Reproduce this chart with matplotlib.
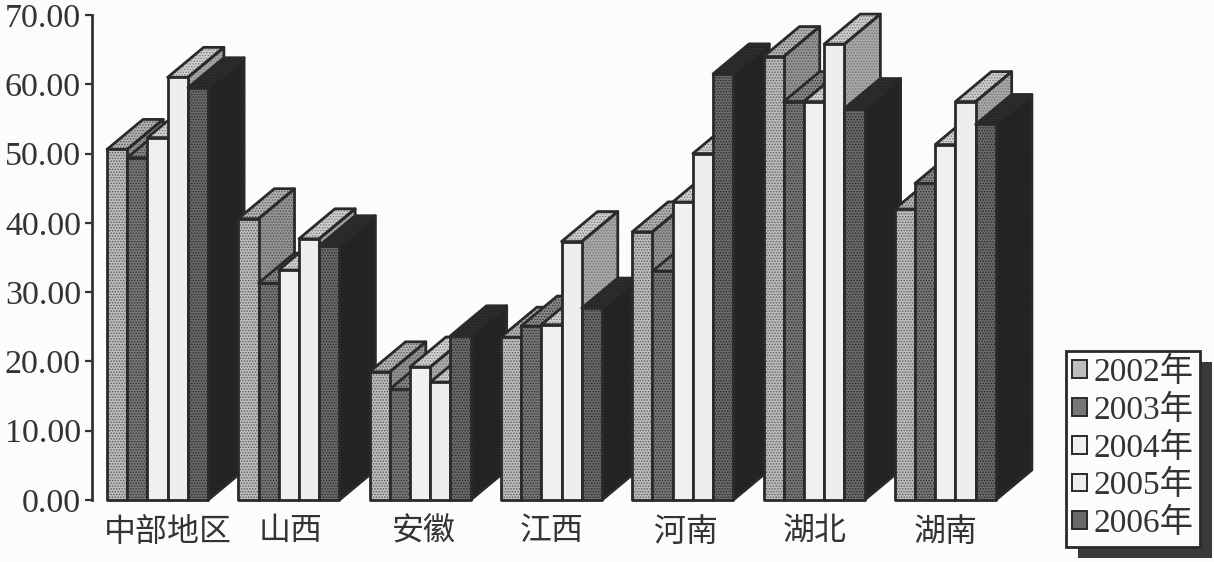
import matplotlib
matplotlib.use("Agg")
import matplotlib.pyplot as plt
from matplotlib.patches import Polygon, Patch, Rectangle

plt.rcParams['font.family'] = ['Liberation Serif', 'Noto Sans CJK SC']
plt.rcParams['hatch.linewidth'] = 0.7

W, H = 1214, 562

# data
regions = ['中部地区', '山西', '安徽', '江西', '河南', '湖北', '湖南']
label_pos = [0.465, 1.40, 2.414, 3.39, 4.41, 5.39, 6.39]
years = ['2002年', '2003年', '2004年', '2005年', '2006年']
y2002 = [50.6, 40.6, 18.5, 23.5, 38.7, 64.0, 42.0]
y2003 = [49.4, 31.3, 16.0, 25.1, 33.0, 57.5, 45.7]
y2004 = [52.3, 33.2, 19.2, 25.3, 43.0, 57.5, 51.3]
y2005 = [61.0, 37.7, 17.0, 37.3, 50.0, 65.8, 57.5]
y2006 = [59.5, 36.7, 23.7, 27.7, 61.5, 56.5, 54.2]
series = [y2002, y2003, y2004, y2005, y2006]

# colours per series
front = ['#bdbdbd', '#777777', '#f0f0f0', '#eeeeee', '#6a6a6a']
top = ['#b4b4b4', '#8a8a8a', '#d4d4d4', '#cfcfcf', '#2e2e2e']
side = ['#959595', '#5c5c5c', '#ababab', '#a8a8a8', '#262626']
dots = ['#5a5a5a', '#2e2e2e', '#f0f0f0', '#eeeeee', '#2a2a2a']
dots_back = ['#555555', '#2e2e2e', '#777777', '#777777', '#1e1e1e']
edge = '#2a2a2a'

bar_w = 0.154
dx = 36 / 131.3
dy = 30 / 6.93

fig = plt.figure(figsize=(W / 100, H / 100), dpi=100, facecolor='#fcfcfc')
left, right, bottom, tp = 92, 1060, 500, 15
ax = fig.add_axes([left / W, 1 - bottom / H, (right - left) / W, (bottom - tp) / H])
ax.set_xlim((left - 107) / 131.3, (right - 107) / 131.3)
ax.set_ylim(0, 70)
ax.patch.set_alpha(0)


def face(pts, color, dot, z):
    ax.add_patch(Polygon(pts, closed=True, facecolor=color, edgecolor=dot, hatch='......',
                         lw=0, zorder=z, clip_on=False))
    ax.add_patch(Polygon(pts, closed=True, fill=False, edgecolor=edge, lw=2.0,
                         zorder=z + 0.1, clip_on=False, joinstyle='round'))


z = 3
for g in range(len(regions)):
    for s in range(len(series)):
        x0 = g + s * bar_w
        x1 = x0 + bar_w
        v = series[s][g]
        face([(x1, 0), (x1 + dx, dy), (x1 + dx, v + dy), (x1, v)], side[s], dots_back[s], z)
        face([(x0, v), (x0 + dx, v + dy), (x1 + dx, v + dy), (x1, v)], top[s], dots_back[s], z)
        face([(x0, 0), (x1, 0), (x1, v), (x0, v)], front[s], dots[s], z + 0.2)
        z += 1

for name in ['top', 'right', 'bottom']:
    ax.spines[name].set_visible(False)
ax.spines['left'].set_linewidth(2.0)
ax.spines['left'].set_color('#333333')

ax.set_yticks(range(0, 71, 10))
ax.set_yticklabels(['%.2f' % t for t in range(0, 71, 10)], fontsize=24.5, color='#333333')
ax.tick_params(axis='y', length=5, width=1.6, color='#333333', pad=3)
ax.set_xticks(label_pos)
ax.set_xticklabels(regions, fontsize=23, color='#333333')
ax.tick_params(axis='x', length=0, pad=13)

# legend with its hard shadow
handles = [Patch(facecolor=front[i], edgecolor=edge, lw=1.4) for i in range(5)]
fig.add_artist(Rectangle((1078 / W, 1 - 558 / H), 134 / W, 196 / H, transform=fig.transFigure,
                         facecolor='#3a3a3a', edgecolor='none', zorder=5))
fig.add_artist(Rectangle((1066 / W, 1 - 547 / H), 134 / W, 196 / H, transform=fig.transFigure,
                         facecolor='#fcfcfc', edgecolor='#2a2a2a', lw=2, zorder=6))
leg = fig.legend(handles, years, loc='center', bbox_to_anchor=(1133 / W, 1 - 448 / H), fontsize=24,
                 frameon=False, handlelength=0.45, handleheight=0.45, handletextpad=0.2,
                 labelspacing=0.2, borderpad=0, labelcolor='#333333')
leg.set_zorder(7)

fig.savefig('out.png', dpi=100, facecolor=fig.get_facecolor())
